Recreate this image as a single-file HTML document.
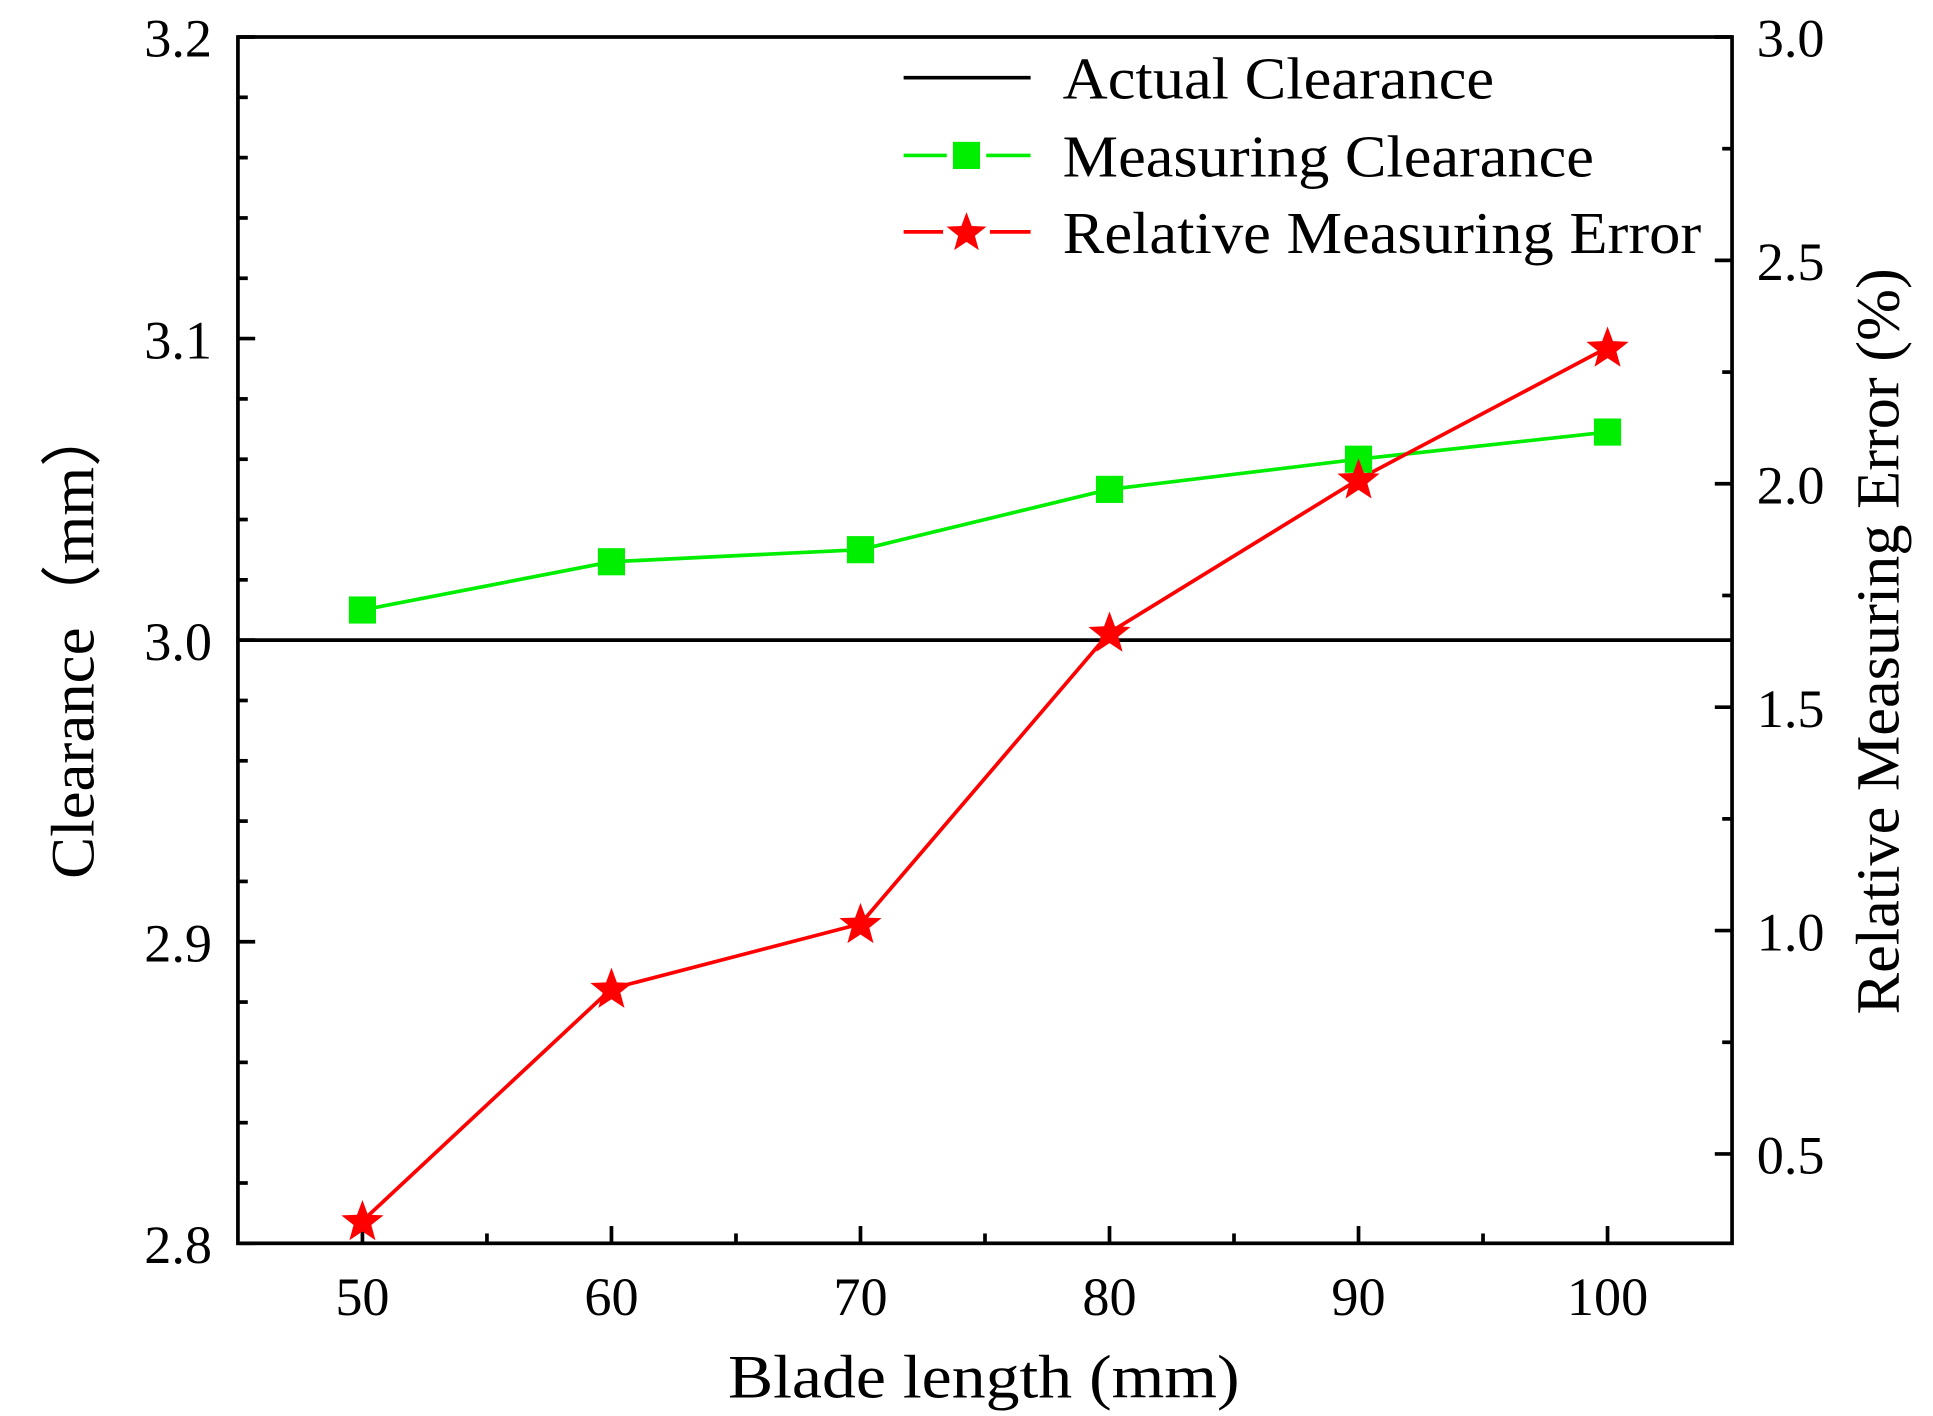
<!DOCTYPE html>
<html><head><meta charset="utf-8"><style>
html,body{margin:0;padding:0;background:#fff;}
svg{display:block;}
text{font-family:"Liberation Serif","Times New Roman",serif;fill:#000;}
</style></head><body>
<svg id="chart" width="1933" height="1416" viewBox="0 0 1568 1148" preserveAspectRatio="none" xmlns="http://www.w3.org/2000/svg">
<g id="ticks"></g>
<g id="series"></g>
<text x="798" y="1133" font-size="50" text-anchor="middle" textLength="415" lengthAdjust="spacingAndGlyphs">Blade length (mm)</text>
<text transform="translate(76,520) rotate(-90)" font-size="50" text-anchor="middle" textLength="385" lengthAdjust="spacingAndGlyphs">Clearance（mm）</text>
<text transform="translate(1540,520) rotate(-90)" font-size="50" text-anchor="middle" textLength="605" lengthAdjust="spacingAndGlyphs">Relative Measuring Error (%)</text>
<g>
<g>
<line x1="733" y1="63" x2="836" y2="63" stroke="#000" stroke-width="3"/>
<text x="862" y="80" font-size="48" textLength="350" lengthAdjust="spacingAndGlyphs">Actual Clearance</text></g>
<g>
<line x1="733" y1="126" x2="768" y2="126" stroke="#00ee00" stroke-width="3"/>
<line x1="800" y1="126" x2="836" y2="126" stroke="#00ee00" stroke-width="3"/>
<rect x="773" y="115" width="22" height="22" fill="#00ee00"/>
<text x="862" y="143" font-size="48" textLength="431" lengthAdjust="spacingAndGlyphs">Measuring Clearance</text></g>
<g>
<line x1="733" y1="188" x2="765" y2="188" stroke="#ff0000" stroke-width="3"/>
<line x1="803" y1="188" x2="836" y2="188" stroke="#ff0000" stroke-width="3"/>
<polygon id="legstar" fill="#ff0000"/>
<text x="862" y="205" font-size="48" textLength="518" lengthAdjust="spacingAndGlyphs">Relative Measuring Error</text></g>
</g>
</svg>
<script>
const categories = [50, 60, 70, 80, 90, 100];
const measuring = [3.010, 3.026, 3.030, 3.050, 3.060, 3.069];
const errorPct = [0.35, 0.87, 1.015, 1.667, 2.01, 2.305];
const actual = 3.0;
const xTicks = ["50","60","70","80","90","100"];
const yTicks = ["2.8","2.9","3.0","3.1","3.2"];
const y2Ticks = ["0.5","1.0","1.5","2.0","2.5","3.0"];

const L=193,R=1405,T=30,B=1008;
const xs=v=>L+(v-45)/(105-45)*(R-L);
const ys=v=>B-(v-2.8)/(0.4)*(B-T);
const y2s=v=>B-(v-0.3)/(2.7)*(B-T);
const NS="http://www.w3.org/2000/svg";
function mk(tag,attrs,parent){const e=document.createElementNS(NS,tag);for(const k in attrs)e.setAttribute(k,attrs[k]);parent.appendChild(e);return e;}
function starPts(cx,cy,ro){const ri=ro*0.42;let p=[];for(let i=0;i<10;i++){const r=i%2?ri:ro;const a=-Math.PI/2+i*Math.PI/5;p.push((cx+r*Math.cos(a)).toFixed(1)+","+(cy+r*Math.sin(a)).toFixed(1));}return p.join(" ");}
document.getElementById('legstar').setAttribute('points',starPts(784,189,17));

const ax=document.getElementById('ticks');
const frame=mk('rect',{x:L,y:T,width:R-L,height:B-T,fill:'none',stroke:'#000','stroke-width':3},ax);


for(let i=0;i<=20;i++){const v=2.8+i*0.02;const y=ys(v);const maj=i%5===0;
 mk('line',{x1:L,y1:y,x2:L+(maj?14:8),y2:y,stroke:'#000','stroke-width':3},ax);}
yTicks.forEach(t=>{const tx=mk('text',{x:172,y:ys(+t)+16,'font-size':44,'text-anchor':'end'},ax);tx.textContent=t;
 
 });
for(let v=0.5;v<=3.001;v+=0.25){const y=y2s(v);const maj=Math.abs(v*2-Math.round(v*2))<1e-6;
 mk('line',{x1:R,y1:y,x2:R-(maj?14:8),y2:y,stroke:'#000','stroke-width':3},ax);}
y2Ticks.forEach(t=>{const tx=mk('text',{x:1425,y:y2s(+t)+16,'font-size':44},ax);tx.textContent=t;
 
 });
for(let v=50;v<=100;v+=5){const x=xs(v);const maj=v%10===0;
 mk('line',{x1:x,y1:B,x2:x,y2:B-(maj?14:8),stroke:'#000','stroke-width':3},ax);}
xTicks.forEach(t=>{const tx=mk('text',{x:xs(+t),y:1066,'font-size':44,'text-anchor':'middle'},ax);tx.textContent=t;
 
 });

const s=document.getElementById('series');
const al=mk('line',{x1:L,y1:ys(actual),x2:R,y2:ys(actual),stroke:'#000','stroke-width':3},s);


const gl=mk('polyline',{points:categories.map((c,i)=>xs(c)+","+ys(measuring[i])).join(" "),fill:'none',stroke:'#00ee00','stroke-width':3},s);


const rl=mk('polyline',{points:categories.map((c,i)=>xs(c)+","+y2s(errorPct[i])).join(" "),fill:'none',stroke:'#ff0000','stroke-width':3},s);


categories.forEach((c,i)=>{
 const r=mk('rect',{x:xs(c)-11,y:ys(measuring[i])-11,width:22,height:22,fill:'#00ee00'},s);
 
 
});
categories.forEach((c,i)=>{
 const p=mk('polygon',{points:starPts(xs(c),y2s(errorPct[i])+1,18),fill:'#ff0000'},s);
 
 
});
</script>
</body></html>
